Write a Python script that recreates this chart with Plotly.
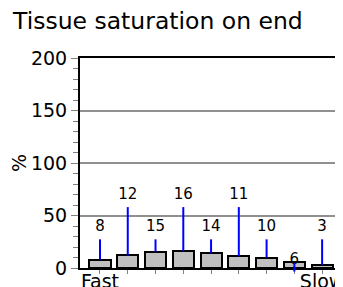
import plotly.graph_objects as go

# ---- data ----
compartments = ["Fast", "", "", "", "", "", "", "", "Slow"]
saturation = [8, 12, 15, 16, 14, 11, 10, 6, 3]

# ---- style ----
FONT = "DejaVu Sans"
LABEL_LOW, LABEL_HIGH = 39, 69.5
LINE_LOW, LINE_HIGH = 27.3, 58
# label placement levels per bar (style): 'low', 'high', 'under'
levels = ["low", "high", "low", "high", "low", "high", "low", "under", "low"]

# page body has an 8px margin; compensate
W, H = 335, 279

x = list(range(len(saturation)))

fig = go.Figure()
fig.add_trace(go.Bar(
    x=x, y=saturation, width=0.76,
    marker=dict(color="#c0c0c0", line=dict(color="black", width=2)),
    hoverinfo="skip",
))

lx, ly, tx, ty, tt = [], [], [], [], []
for i, (v, lev) in enumerate(zip(saturation, levels)):
    if lev == "under":
        tx.append(i); ty.append(7.6); tt.append(str(v))
        continue
    top = LINE_HIGH if lev == "high" else LINE_LOW
    lab = LABEL_HIGH if lev == "high" else LABEL_LOW
    lx += [i, i, None]; ly += [v, top, None]
    tx.append(i); ty.append(lab); tt.append(str(v))

fig.add_trace(go.Scatter(x=lx, y=ly, mode="lines",
                         line=dict(color="#0000ff", width=2), hoverinfo="skip"))
fig.add_trace(go.Scatter(x=tx, y=ty, mode="text", text=tt,
                         textfont=dict(family=FONT, size=15, color="black"),
                         textposition="middle center", cliponaxis=False, hoverinfo="skip"))

# the odd line below the axis for the 'under' label
for i, lev in enumerate(levels):
    if lev == "under":
        fig.add_annotation(x=i, y=4.8, ax=i, ay=-4.8, axref="x", ayref="y",
                           xref="x", yref="y", text="", showarrow=True,
                           arrowhead=0, arrowwidth=2, arrowcolor="#0000ff", standoff=0,
                           startstandoff=0)

fig.update_layout(
    width=W, height=H,
    margin=dict(l=72, r=2, t=50, b=19),
    paper_bgcolor="white", plot_bgcolor="white",
    showlegend=False, bargap=0,
    font=dict(family=FONT, size=19, color="black"),
    title=dict(text="Tissue saturation on end", x=5/W, xanchor="left",
               xref="container", y=1 - 12.5/H, yanchor="middle", yref="container",
               font=dict(family=FONT, size=23.5, color="black")),
)
fig.update_xaxes(
    range=[-0.72, 8.68], tickvals=x, ticktext=compartments,
    ticks="outside", ticklen=4, tickcolor="#808080", tickwidth=1,
    showline=True, linecolor="black", linewidth=2, mirror=True,
    showgrid=False, zeroline=False, automargin=False,
    tickfont=dict(family=FONT, size=19), fixedrange=True,
    ticklabeloverflow="allow", ticklabelstandoff=-9,
)
fig.update_yaxes(
    range=[0, 200], tickvals=[0, 50, 100, 150, 200],
    ticks="outside", ticklen=7, tickcolor="#808080", tickwidth=1,
    minor=dict(dtick=10, ticks="outside", ticklen=5, tickcolor="#808080", showgrid=False),
    showline=True, linecolor="black", linewidth=2, mirror=True,
    showgrid=True, gridcolor="#909090", gridwidth=1.5, zeroline=False,
    automargin=False, tickfont=dict(family=FONT, size=19),
    title=dict(text="%", standoff=8, font=dict(family=FONT, size=19)),
)

fig.write_html("out.html")
